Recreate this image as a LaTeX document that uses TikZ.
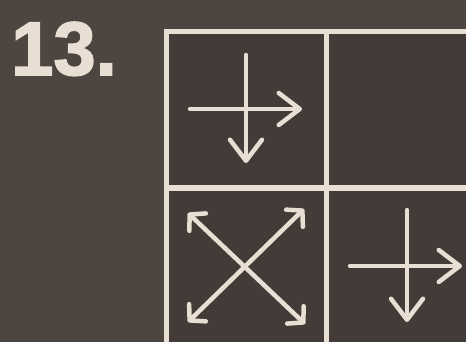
\documentclass[tikz,border=0pt]{standalone}
\usepackage{fontspec}
\setmainfont{Liberation Sans}
\newfontfamily\numfont{Liberation Sans Bold}[FakeBold=2]
\usetikzlibrary{arrows.meta}
\definecolor{cboard}{HTML}{4C4540}
\definecolor{ccell}{HTML}{423B37}
\definecolor{cchalk}{HTML}{E8DED3}

\begin{document}
\begin{tikzpicture}[x=1pt,y=-1pt,
  grid/.style={draw=cchalk,line width=5pt},
  arr/.style={draw=cchalk,line width=4.5pt,line cap=round,
              -{Straight Barb[length=21pt,width=32pt,line width=4.5pt,round]}},
  xarr/.style={draw=cchalk,line width=4.5pt,line cap=round,
              {Straight Barb[length=11pt,width=24pt,line width=4.5pt,round]}-{Straight Barb[length=11pt,width=24pt,line width=4.5pt,round]}}]
\useasboundingbox (0,0) rectangle (466,342);
\fill[cboard] (0,0) rectangle (466,342);
\clip (0,0) rectangle (466,342);
\fill[ccell] (166,32) rectangle (490,350);
% grid
\draw[grid] (166,350) -- (166,32) -- (490,32);
\draw[grid] (326,32) -- (326,350);
\draw[grid] (166,188) -- (490,188);
\node[text=cchalk,font=\numfont\fontsize{76}{76}\selectfont,anchor=base west,inner sep=0pt]
  (num) at (11,75) {13.};
% top left cell
\draw[arr] (190,109) -- (302,109);
\draw[arr] (246,55) -- (246,163);
% bottom left cell
\draw[xarr] (188,213) -- (305,324);
\draw[xarr] (188,322) -- (304,209);
% bottom right cell
\draw[arr] (350,266) -- (462,266);
\draw[arr] (407,210) -- (407,322);
\end{tikzpicture}
\end{document}
